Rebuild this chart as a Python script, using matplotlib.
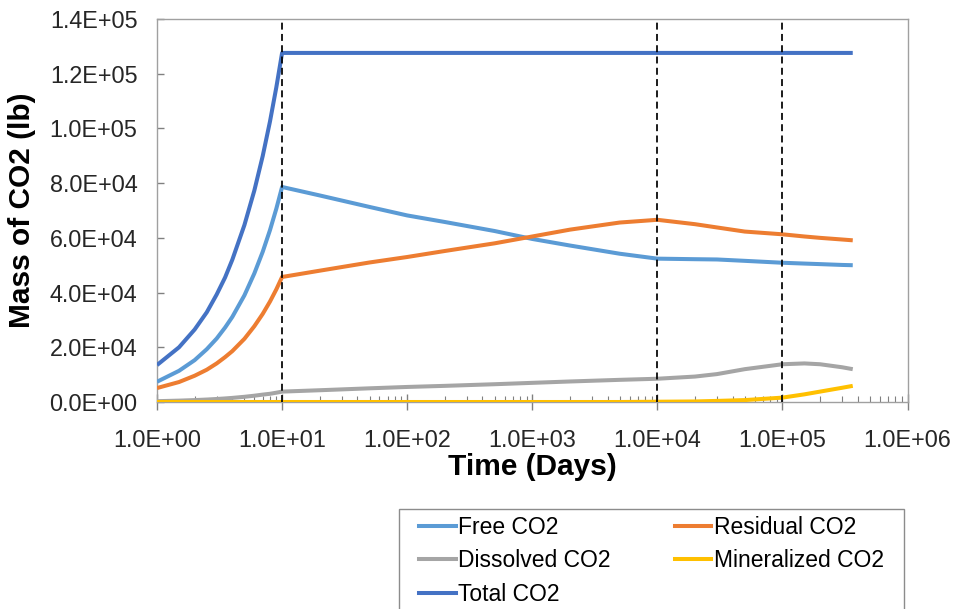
import matplotlib
matplotlib.use("Agg")
import matplotlib.pyplot as plt
from matplotlib.lines import Line2D
from matplotlib.patches import Rectangle
from matplotlib.ticker import FuncFormatter, LogLocator, NullFormatter

plt.rcParams["font.family"] = ["Liberation Sans", "DejaVu Sans"]

# time axis (days): injection period first, then log-spaced to 1000 years
time_days = [1, 1.5, 2, 2.5, 3, 3.5, 4, 5, 6, 7, 8, 9, 10,
             20, 50, 100, 200, 500, 1000, 2000, 5000,
             1e4, 2e4, 3e4, 5e4, 1e5, 1.5e5, 2e5, 3e5, 3.65e5]

# masses in lb
free_co2 = [7400, 11400, 15300, 19300, 23200, 27200, 31100, 39000, 47000, 54900, 62800, 70700, 78600,
            75500, 71300, 68200, 65800, 62500, 59600, 57200, 54200,
            52400, 52200, 52100, 51600, 50900, 50600, 50400, 50100, 50000]
residual_co2 = [5100, 7300, 9600, 11800, 14100, 16400, 18600, 23100, 27700, 32200, 36700, 41200, 45700,
                48000, 51000, 53000, 55200, 58000, 60500, 63000, 65600,
                66600, 65000, 63800, 62300, 61300, 60500, 60000, 59400, 59100]
dissolved_co2 = [300, 500, 700, 900, 1100, 1300, 1500, 1900, 2300, 2700, 3000, 3400, 3800,
                 4300, 5000, 5500, 5900, 6500, 7000, 7500, 8100,
                 8500, 9300, 10200, 12000, 13800, 14100, 13800, 12700, 12000]
mineralized_co2 = [0, 0, 0, 0, 0, 0, 0, 0, 0, 0, 0, 0, 0,
                   0, 0, 0, 0, 0, 0, 0, 0,
                   100, 200, 400, 700, 1600, 2800, 3800, 5200, 5900]
total_co2 = [13500, 20000, 26500, 32800, 39300, 45500, 52000, 64700, 77300, 89900, 102500, 115100, 127600,
             127600, 127600, 127600, 127600, 127600, 127600, 127600, 127600,
             127600, 127600, 127600, 127600, 127600, 127600, 127600, 127600, 127600]

# reference times marked with dashed lines
marker_times = [10, 1e4, 1e5]

x_ticks = [1, 10, 100, 1e3, 1e4, 1e5, 1e6]
y_ticks = [0, 2e4, 4e4, 6e4, 8e4, 1e5, 1.2e5, 1.4e5]

series = [
    ("Free CO2", free_co2, "#5B9BD5"),
    ("Residual CO2", residual_co2, "#ED7D31"),
    ("Dissolved CO2", dissolved_co2, "#A5A5A5"),
    ("Mineralized CO2", mineralized_co2, "#FFC000"),
    ("Total CO2", total_co2, "#4472C4"),
]

W, H = 956, 609
fig = plt.figure(figsize=(W / 100, H / 100), dpi=100)
ax = fig.add_axes([157 / W, 1 - 402 / H, (907.5 - 157) / W, (402 - 19) / H])

for name, vals, col in series:
    ax.plot(time_days, vals, color=col, lw=2.9, label=name,
            solid_capstyle="butt", solid_joinstyle="round", zorder=3)

for t in marker_times:
    ax.axvline(t, color="black", lw=1.25, ls=(0, (4, 2.5)), zorder=4)

ax.set_xscale("log")
ax.set_xlim(1, 1e6)
ax.set_ylim(0, 1.4e5)
ax.set_xticks(x_ticks)
ax.set_yticks(y_ticks)

sci = FuncFormatter(lambda v, _: f"{v:.1E}")
ax.xaxis.set_major_formatter(sci)
ax.yaxis.set_major_formatter(sci)
ax.xaxis.set_minor_locator(LogLocator(base=10, subs=range(2, 10), numticks=20))
ax.xaxis.set_minor_formatter(NullFormatter())

axis_grey = "#A0A0A0"
for sp in ax.spines.values():
    sp.set_color(axis_grey)
    sp.set_linewidth(1.0)

ax.tick_params(axis="x", which="major", direction="inout", length=11,
               width=1, color="#808080", pad=14, labelsize=16.8, labelcolor="#262626")
ax.tick_params(axis="x", which="minor", direction="in", length=4,
               width=0.8, color="#808080")
ax.tick_params(axis="y", which="major", direction="in", length=5,
               width=1, color="#808080", pad=14, labelsize=16.8, labelcolor="#262626")

ax.set_xlabel("Time (Days)", fontsize=21.5, fontweight="bold", labelpad=1)
ax.set_ylabel("Mass of CO2 (lb)", fontsize=21.5, fontweight="bold", labelpad=10)

# legend box below the plot, running past the bottom edge
fig.patches.append(Rectangle((399 / W, -0.05), (904 - 399) / W, (H - 509) / H + 0.05,
                             transform=fig.transFigure, facecolor="white",
                             edgecolor="#8C8C8C", lw=1.0))
# legend fills column by column, so reorder to read row by row
order = [0, 2, 4, 1, 3]
handles = [Line2D([0], [0], color=series[i][2], lw=2.9) for i in order]
labels = [series[i][0] for i in order]
fig.legend(handles, labels, ncol=2, loc="upper left",
           bbox_to_anchor=(419 / W, 1 - 516 / H), frameon=False,
           fontsize=16.5, borderpad=0, borderaxespad=0, handlelength=1.6,
           handletextpad=0.1, columnspacing=2.8, labelspacing=0.45)

fig.savefig("out.png", dpi=100)
